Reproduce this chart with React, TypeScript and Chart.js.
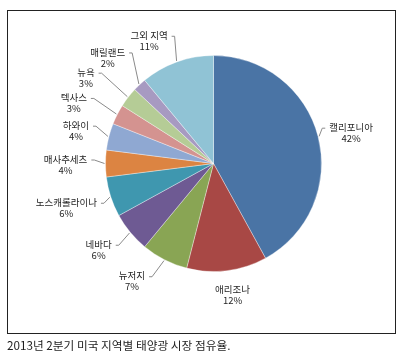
import React, { useEffect, useRef } from "react";
import { Chart, registerables } from "chart.js";

Chart.register(...registerables);

const regions = ["캘리포니아", "애리조나", "뉴저지", "네바다", "노스캐롤라이나", "매사추세츠", "하와이", "텍사스", "뉴욕", "매릴랜드", "그외 지역"];
const shares = [42, 12, 7, 6, 6, 4, 4, 3, 3, 2, 11];
const sliceColors = ["#4A74A5", "#A84845", "#89A554", "#6E5A93", "#3F97AF", "#DC8442", "#8FA8D2", "#D49390", "#B5CC96", "#A79AC1", "#90C3D5"];
const labelNudgeX = [2, 1.5, -18, -7, -14, -8, -2, -15, -17, -10, -17];
const labelNudgeY = [4, -8, -7, -3, 1, 1, 2, 3, 0, -4, 9];
const caption = "2013년 2분기 미국 지역별 태양광 시장 점유율.";

const FONT = '"Noto Sans CJK KR", "Noto Sans", sans-serif';

const labelPlugin = {
  id: "outsideLabels",
  afterDatasetsDraw(chart: any) {
    const ctx = chart.ctx;
    const meta = chart.getDatasetMeta(0);
    ctx.save();
    ctx.font = `9.5px ${FONT}`;
    ctx.textBaseline = "middle";
    ctx.textAlign = "center";
    meta.data.forEach((arc: any, i: number) => {
      const { x, y, startAngle, endAngle, outerRadius } = arc.getProps(["x", "y", "startAngle", "endAngle", "outerRadius"], true);
      const mid = (startAngle + endAngle) / 2;
      const dist = outerRadius + 32;
      const cx = x + Math.cos(mid) * dist + labelNudgeX[i];
      const cy = y + Math.sin(mid) * dist + labelNudgeY[i];
      const l1 = regions[i];
      const l2 = `${shares[i]}%`;
      const w1 = ctx.measureText(l1).width;
      const topY = cy - 5.5;
      const ex = x + Math.cos(mid) * (outerRadius + 1);
      const ey = y + Math.sin(mid) * (outerRadius + 1);
      if (Math.abs(cx - x) > 20) {
        const left = cx < x;
        const sx = left ? cx + w1 / 2 + 4 : cx - w1 / 2 - 4;
        const hx = left ? sx + 3 : sx - 3;
        ctx.strokeStyle = "#8a8a8a";
        ctx.lineWidth = 1;
        ctx.beginPath();
        ctx.moveTo(sx, topY + 1);
        ctx.lineTo(hx, topY + 1);
        ctx.lineTo(ex, ey);
        ctx.stroke();
      }
      ctx.fillStyle = "#262626";
      ctx.fillText(l1, cx, topY);
      ctx.fillText(l2, cx, cy + 5.5);
    });
    ctx.restore();
  },
};

export default function App() {
  const ref = useRef<HTMLCanvasElement>(null);
  useEffect(() => {
    if (!ref.current) return;
    const chart = new Chart(ref.current, {
      type: "pie",
      data: {
        labels: regions,
        datasets: [
          {
            data: shares,
            backgroundColor: sliceColors,
            borderColor: "rgba(255,255,255,0.35)",
            borderWidth: 1,
          },
        ],
      },
      options: {
        responsive: false,
        animation: false,
        layout: { padding: { left: 105, right: 78, top: 55, bottom: 89 } },
        plugins: {
          legend: { display: false },
          tooltip: { enabled: false },
        },
      },
      plugins: [labelPlugin],
    });
    return () => chart.destroy();
  }, []);

  return (
    <div style={{ position: "absolute", left: 0, top: 0, width: 400, height: 361, background: "#fff", overflow: "hidden" }}>
      <div
        style={{
          position: "absolute",
          left: 7,
          top: 10,
          width: 389,
          height: 324,
          boxSizing: "border-box",
          border: "1px solid #222",
        }}
      />
      <canvas ref={ref} width={400} height={361} style={{ position: "absolute", left: 0, top: 0, width: 400, height: 361 }} />
      <div
        style={{
          position: "absolute",
          left: 7,
          top: 336,
          fontFamily: FONT,
          fontSize: 11.7,
          lineHeight: "17px",
          color: "#1e1e1e",
          whiteSpace: "nowrap",
        }}
      >
        {caption}
      </div>
    </div>
  );
}
